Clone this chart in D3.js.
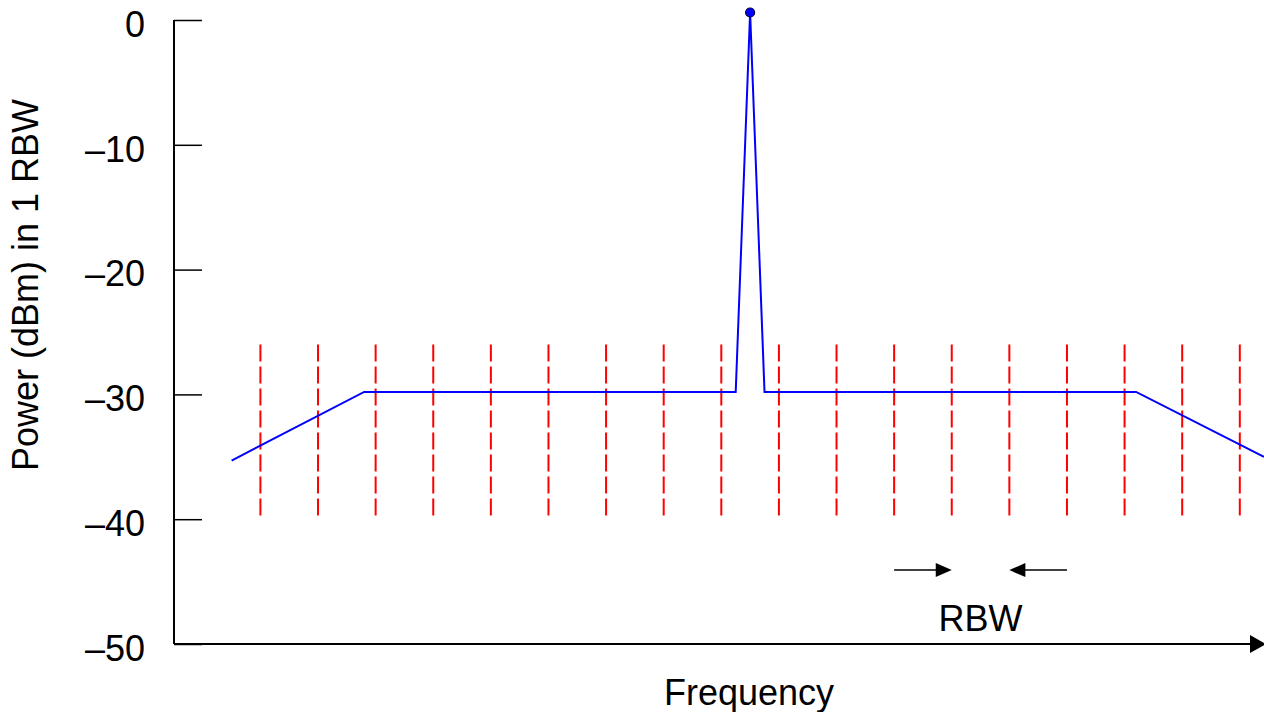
<!DOCTYPE html>
<html><head><meta charset="utf-8">
<script src="https://cdn.jsdelivr.net/npm/d3@7"></script>
<style>body{margin:0;background:#fff;}svg{display:block;font-family:"Liberation Sans",Arial,sans-serif;}</style>
</head><body>
<svg id="c" width="1264" height="712"></svg>
<script>
// Data (frequency in RBW units, power in dBm)
const specFreq  = [1.0, 3.3, 9.75, 10.0, 10.25, 16.7, 18.92];
const specPower = [-35.3, -29.8, -29.8, 0.6, -29.8, -29.8, -35.0];
const binEdges = [1.5,2.5,3.5,4.5,5.5,6.5,7.5,8.5,9.5,10.5,11.5,12.5,13.5,14.5,15.5,16.5,17.5,18.5];
const binTop = -26, binBottom = -40;
const yTicks = [0, -10, -20, -30, -40, -50];
const yTickLabels = ["0", "\u201310", "\u201320", "\u201330", "\u201340", "\u201350"];
const rbwLeft = 13.5, rbwRight = 14.5, rbwLevel = -44;

const svg = d3.select("#c");
const x = d3.scaleLinear().domain([0, 18.92]).range([174, 1264]);
const y = d3.scaleLinear().domain([-50, 0]).range([644, 20]);

// y axis ticks
const ya = svg.append("g").attr("transform", "translate(174,0)")
  .call(d3.axisLeft(y).tickValues(yTicks).tickSizeInner(-28).tickSizeOuter(0).tickPadding(29)
    .tickFormat((d, i) => yTickLabels[i]));
ya.select(".domain").remove();
ya.selectAll(".tick line").attr("stroke", "#000").attr("stroke-width", 1.5);
ya.selectAll(".tick text").attr("font-size", 36).attr("fill", "#000")
  .attr("font-family", "Liberation Sans, Arial, sans-serif").attr("dy", "0.45em");

// axis lines
svg.append("line").attr("x1", 174).attr("x2", 174).attr("y1", y(0)).attr("y2", y(-50))
  .attr("stroke", "#000").attr("stroke-width", 2);
svg.append("line").attr("x1", 174).attr("x2", 1254).attr("y1", y(-50)).attr("y2", y(-50))
  .attr("stroke", "#000").attr("stroke-width", 2);
svg.append("path").attr("d", `M1250,${y(-50)-9} L1266,${y(-50)} L1250,${y(-50)+9} Z`).attr("fill", "#000");

// red dashed bin edges
svg.append("g").selectAll("line").data(binEdges).join("line")
  .attr("x1", d => x(d)).attr("x2", d => x(d))
  .attr("y1", y(binTop)).attr("y2", y(binBottom))
  .attr("stroke", "#ff0000").attr("stroke-width", 2).attr("stroke-dasharray", "17,5");

// spectrum line
const pts = specFreq.map((f, i) => [f, specPower[i]]);
svg.append("path").datum(pts)
  .attr("d", d3.line().x(d => x(d[0])).y(d => y(d[1])))
  .attr("fill", "none").attr("stroke", "#0000ff").attr("stroke-width", 2);
svg.append("circle").attr("cx", x(10.0)).attr("cy", y(0.6)).attr("r", 4.5)
  .attr("fill", "#0000ff").attr("stroke", "#000040").attr("stroke-width", 1.2);

// RBW arrows
const ay = y(rbwLevel) + 1;
function arrow(from, to) {
  const dir = Math.sign(to - from);
  svg.append("line").attr("x1", from).attr("x2", to - dir*14).attr("y1", ay).attr("y2", ay)
    .attr("stroke", "#000").attr("stroke-width", 1.5);
  svg.append("path").attr("d", `M${to},${ay} L${to - dir*16},${ay-7} L${to - dir*16},${ay+7} Z`).attr("fill", "#000");
}
arrow(x(rbwLeft - 1), x(rbwLeft));
arrow(x(rbwRight + 1), x(rbwRight));
svg.append("text").attr("x", x((rbwLeft + rbwRight) / 2)).attr("y", 631)
  .attr("text-anchor", "middle").attr("font-size", 36).text("RBW");

// axis titles
svg.append("text").attr("x", 749).attr("y", 705).attr("text-anchor", "middle")
  .attr("font-size", 36).text("Frequency");
svg.append("text").attr("transform", "translate(38,285) rotate(-90)").attr("text-anchor", "middle")
  .attr("font-size", 36).text("Power (dBm) in 1 RBW");
</script>
</body></html>
